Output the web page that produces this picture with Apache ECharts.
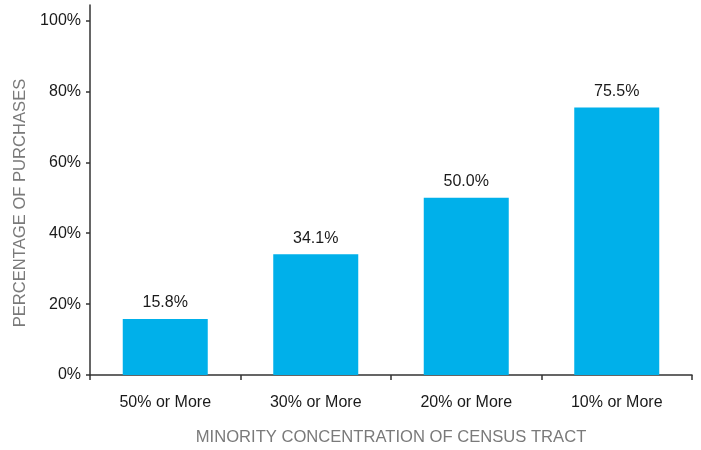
<!DOCTYPE html>
<html>
<head>
<meta charset="utf-8">
<script src="https://cdn.jsdelivr.net/npm/echarts@6/dist/echarts.min.js"></script>
<style>
  html, body { margin: 0; padding: 0; background: #fff; }
  #chart { width: 701px; height: 450px; }
</style>
</head>
<body>
<div id="chart"></div>
<script>
const categories = ['50% or More', '30% or More', '20% or More', '10% or More'];
const purchaseShare = [15.8, 34.1, 50.0, 75.5];
const yTicks = [0, 20, 40, 60, 80, 100];
const yAxisTitle = 'PERCENTAGE OF PURCHASES';
const xAxisTitle = 'MINORITY CONCENTRATION OF CENSUS TRACT';

const FONT = '"Liberation Sans", Arial, sans-serif';

const chart = echarts.init(document.getElementById('chart'), null, { renderer: 'canvas' });
chart.setOption({
  animation: false,
  backgroundColor: '#ffffff',
  grid: { left: 90, right: 9, top: 5, bottom: 75, containLabel: false, outerBoundsMode: 'none' },
  xAxis: {
    type: 'category',
    data: categories,
    name: xAxisTitle,
    nameLocation: 'middle',
    nameGap: 54,
    nameTextStyle: { color: '#7a7a7a', fontSize: 16.6, fontFamily: FONT },
    axisLine: { lineStyle: { color: '#333', width: 1.5 } },
    axisTick: { show: true, alignWithLabel: false, length: 5, lineStyle: { color: '#333', width: 1.5 } },
    axisLabel: { color: '#1a1a1a', fontSize: 16, fontFamily: FONT, margin: 20 }
  },
  yAxis: {
    type: 'value',
    min: 0,
    max: 104.4,
    interval: 20,
    name: yAxisTitle,
    nameLocation: 'middle',
    nameGap: 57,
    nameTextStyle: { color: '#7a7a7a', fontSize: 16.6, fontFamily: FONT, padding: [0, 0, 0, -26] },
    splitLine: { show: false },
    axisLine: { show: true, lineStyle: { color: '#333', width: 1.5 } },
    axisTick: { show: true, length: 4, customValues: yTicks, lineStyle: { color: '#333', width: 1.5 } },
    axisLabel: {
      color: '#1a1a1a', fontSize: 16, fontFamily: FONT, margin: 9,
      customValues: yTicks,
      formatter: v => v + '%'
    }
  },
  series: [{
    type: 'bar',
    data: purchaseShare,
    barWidth: 85,
    itemStyle: { color: '#00b0ea' },
    label: {
      show: true,
      position: 'top',
      distance: 8,
      color: '#1a1a1a',
      fontSize: 16,
      fontFamily: FONT,
      formatter: p => p.value.toFixed(1) + '%'
    }
  }]
});
</script>
</body>
</html>
